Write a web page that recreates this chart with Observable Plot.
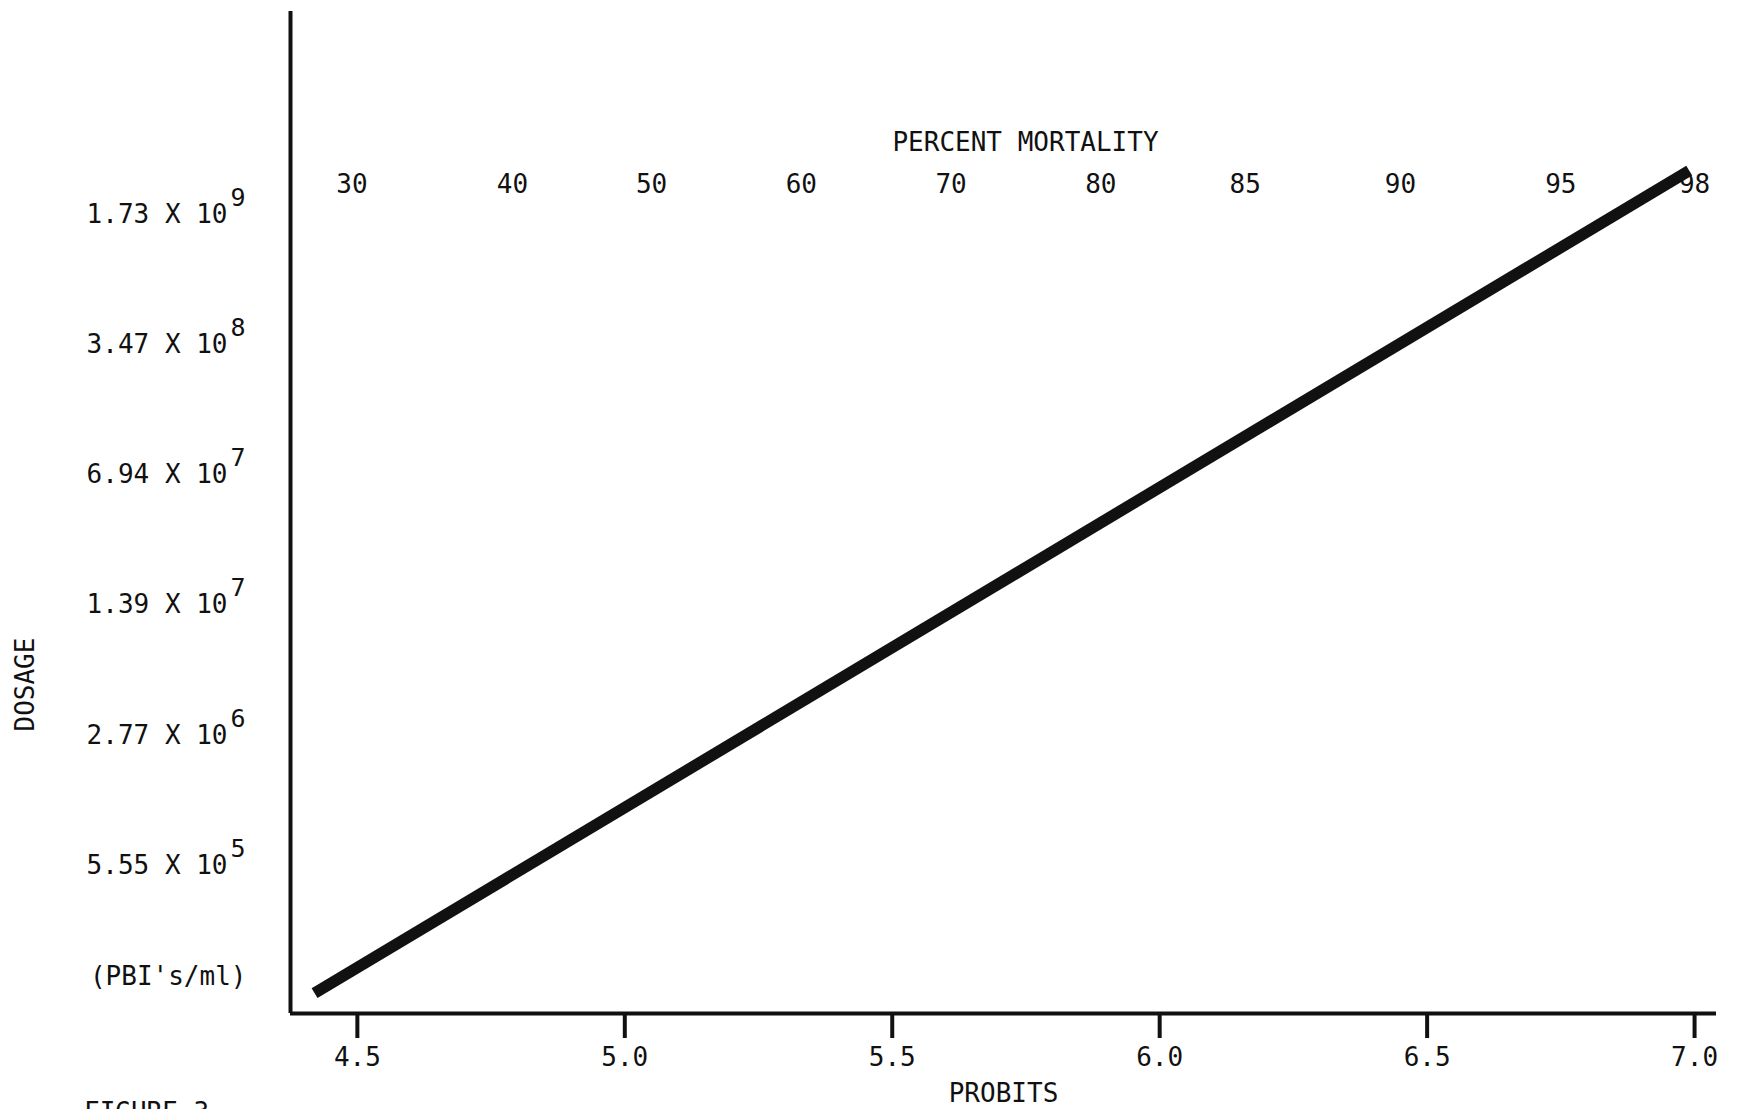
<!DOCTYPE html>
<html>
<head>
<meta charset="utf-8">
<script src="https://cdn.jsdelivr.net/npm/d3@7"></script>
<script src="https://cdn.jsdelivr.net/npm/@observablehq/plot@0.6"></script>
<style>
html, body { margin: 0; padding: 0; background: #fff; overflow: hidden; }
#chart svg { display: block; }
#caption { position: relative; font-family: "DejaVu Sans Mono", monospace; font-size: 26px; line-height: 1; padding-left: 84px; color: #111; white-space: pre; margin-top: -10px; width: 300px; }
</style>
</head>
<body>
<div id="chart"></div>
<div id="caption">FIGURE 3.</div>
<script>
// Fitted probit line (probit vs dosage)
const lineProbit = [4.42, 6.99];
const lineDosage = [1.11e5, 2.87e9];

// Dosage labels (PBI's/ml)
const dosageMantissa = ["1.73", "3.47", "6.94", "1.39", "2.77", "5.55"];
const dosageExponent = [9, 8, 7, 7, 6, 5];

// Percent mortality labels and their probit positions
const mortalityLabels = ["30", "40", "50", "60", "70", "80", "85", "90", "95", "98"];
const mortalityProbit = [4.49, 4.79, 5.05, 5.33, 5.61, 5.89, 6.16, 6.45, 6.75, 7.00];

// Probit axis ticks
const probitTicks = [4.5, 5.0, 5.5, 6.0, 6.5, 7.0];

const xDomain = [4.375, 7.041];
const yDomain = [8.63e4, 2.05e10];

const lineData = lineProbit.map((p, i) => ({probit: p, dose: lineDosage[i]}));
const dosageRows = dosageMantissa.map((m, i) => ({
  dose: +m * Math.pow(10, dosageExponent[i]),
  base: m + " X 10",
  exp: String(dosageExponent[i])
}));
const mortalityRows = mortalityLabels.map((l, i) => ({label: l, probit: mortalityProbit[i]}));

const chart = Plot.plot({
  width: 1738,
  height: 1109,
  marginTop: 11,
  marginRight: 22,
  marginBottom: 96,
  marginLeft: 290,
  style: {fontFamily: "'DejaVu Sans Mono', monospace", fontSize: "26px", color: "#111", background: "#fff"},
  x: {type: "linear", domain: xDomain, axis: null},
  y: {type: "log", domain: yDomain, axis: null},
  marks: [
    Plot.ruleX([xDomain[0]], {stroke: "#111", strokeWidth: 4}),
    Plot.ruleY([yDomain[0]], {stroke: "#111", strokeWidth: 4}),
    Plot.axisX({ticks: probitTicks, tickSize: 25, tickPadding: 9, strokeWidth: 4, tickFormat: d3.format(".1f"), label: null}),
    Plot.line(lineData, {x: "probit", y: "dose", stroke: "#111", strokeWidth: 11.5, strokeLinecap: "butt"}),
    Plot.text(dosageRows, {y: "dose", text: "base", frameAnchor: "left", textAnchor: "end", dx: -63, dy: 3}),
    Plot.text(dosageRows, {y: "dose", text: "exp", frameAnchor: "left", textAnchor: "start", dx: -60, dy: -14, fontSize: 25}),
    Plot.text(["(PBI's/ml)"], {frameAnchor: "bottom-left", textAnchor: "end", dx: -44, dy: -29}),
    Plot.text(["DOSAGE"], {frameAnchor: "left", rotate: -90, dx: -265, dy: 219}),
    Plot.text(mortalityRows, {x: "probit", text: "label", frameAnchor: "top", dy: 163}),
    Plot.text(["PERCENT MORTALITY"], {frameAnchor: "top", dx: 22, dy: 121}),
    Plot.text(["PROBITS"], {frameAnchor: "bottom", dx: 0, dy: 88})
  ]
});
document.getElementById("chart").appendChild(chart);
</script>
</body>
</html>
